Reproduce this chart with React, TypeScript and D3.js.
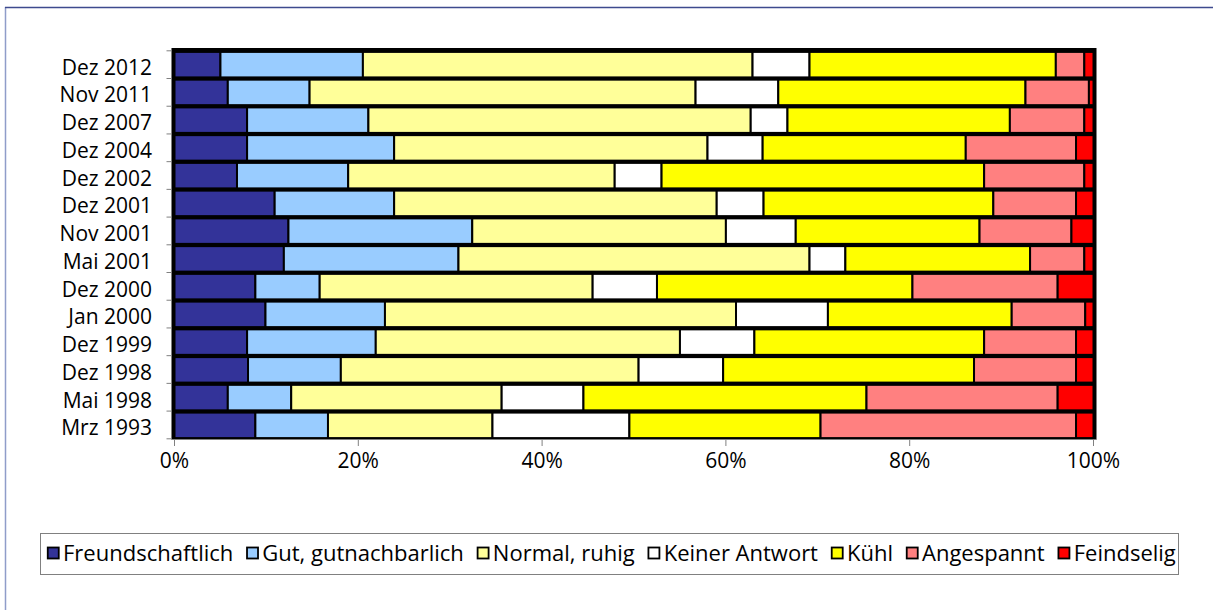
import React, { useEffect, useRef } from "react";
import * as d3 from "d3";

const categories = [
  "Dez 2012", "Nov 2011", "Dez 2007", "Dez 2004", "Dez 2002", "Dez 2001", "Nov 2001",
  "Mai 2001", "Dez 2000", "Jan 2000", "Dez 1999", "Dez 1998", "Mai 1998", "Mrz 1993",
];
const seriesNames = [
  "Freundschaftlich", "Gut, gutnachbarlich", "Normal, ruhig", "Keiner Antwort", "Kühl", "Angespannt", "Feindselig",
];
const freundschaftlich = [5, 5.8, 7.9, 7.9, 6.8, 10.9, 12.4, 11.9, 8.8, 9.9, 7.9, 8.0, 5.8, 8.8];
const gut = [15.5, 8.9, 13.2, 16.0, 12.1, 13.0, 20.0, 19.0, 7.0, 13.0, 14.0, 10.1, 6.9, 7.9];
const normal = [42.4, 42.0, 41.6, 34.1, 29.0, 35.1, 27.6, 38.2, 29.7, 38.2, 33.1, 32.4, 22.9, 17.9];
const keine = [6.2, 9.0, 4.0, 6.0, 5.1, 5.1, 7.6, 3.9, 7.0, 10.0, 8.1, 9.2, 8.9, 14.9];
const kuehl = [26.8, 26.9, 24.2, 22.1, 35.1, 25.0, 20.0, 20.1, 27.8, 20.0, 25.0, 27.3, 30.8, 20.8];
const angespannt = [3.1, 6.9, 8.1, 12.0, 10.9, 9.0, 10.0, 5.9, 15.8, 8.0, 10.0, 11.1, 20.8, 27.8];
const feindselig = [1.0, 0.5, 1.0, 1.9, 1.0, 1.9, 2.4, 1.0, 3.9, 0.9, 1.9, 1.9, 3.9, 1.9];
const xTicks = [0, 0.2, 0.4, 0.6, 0.8, 1.0];

const seriesValues = [freundschaftlich, gut, normal, keine, kuehl, angespannt, feindselig];
const colors = ["#333399", "#99CCFF", "#FFFF99", "#FFFFFF", "#FFFF00", "#FF8080", "#FF0000"];

const W = 1213;
const H = 610;
const FONT = "'Open Sans', 'Noto Sans', sans-serif";

export default function App() {
  const ref = useRef<SVGSVGElement | null>(null);

  useEffect(() => {
    const svg = d3.select(ref.current);
    svg.selectAll("*").remove();

    // outer frame
    svg.append("line").attr("x1", 5.5).attr("x2", 5.5).attr("y1", 7).attr("y2", H)
      .attr("stroke", "#8f9dc9").attr("stroke-width", 1.5);
    svg.append("line").attr("x1", 5).attr("x2", W).attr("y1", 7.5).attr("y2", 7.5)
      .attr("stroke", "#3d4a8e").attr("stroke-width", 1.5);

    const rows = categories.map((c, i) => {
      const o: any = { cat: c };
      seriesNames.forEach((s, k) => (o[s] = seriesValues[k][i]));
      return o;
    });
    const stacked = d3.stack<any>().keys(seriesNames).offset(d3.stackOffsetExpand)(rows);

    const x = d3.scaleLinear().domain([0, 1]).range([174.5, 1093.5]);
    const y = d3.scaleBand<string>().domain(categories).range([50.8, 439.2])
      .paddingInner(0.081).paddingOuter(0.04);

    // black plot background
    svg.append("rect").attr("x", 171.5).attr("y", 48).attr("width", 1096.5 - 171.5)
      .attr("height", 439.5 - 48).attr("fill", "#000");

    const g = svg.append("g");
    stacked.forEach((layer, k) => {
      g.selectAll(null).data(layer).enter().append("rect")
        .attr("x", (d: any) => x(d[0]))
        .attr("width", (d: any) => Math.max(0, x(d[1]) - x(d[0])))
        .attr("y", (d: any) => y(d.data.cat) as number)
        .attr("height", y.bandwidth())
        .attr("fill", colors[k])
        .attr("stroke", "#000")
        .attr("stroke-width", 2);
    });

    // y ticks
    const yBounds = d3.range(categories.length + 1).map((i) => 50.8 + i * (438.8 - 50.8) / categories.length);
    svg.append("g").selectAll("line").data(yBounds).enter().append("line")
      .attr("x1", 166.5).attr("x2", 172).attr("y1", (d) => d).attr("y2", (d) => d)
      .attr("stroke", "#808080").attr("stroke-width", 1);

    // x ticks
    svg.append("g").selectAll("line").data(xTicks).enter().append("line")
      .attr("x1", (d) => x(d)).attr("x2", (d) => x(d)).attr("y1", 439).attr("y2", 446)
      .attr("stroke", "#808080").attr("stroke-width", 1);
    svg.append("line").attr("x1", 171.5).attr("x2", 1096.5).attr("y1", 439.5).attr("y2", 439.5)
      .attr("stroke", "#808080").attr("stroke-width", 1);

    svg.append("g").selectAll("text").data(xTicks).enter().append("text")
      .attr("x", (d) => x(d)).attr("y", 468)
      .attr("text-anchor", "middle")
      .attr("font-family", FONT).attr("font-size", 21).attr("fill", "#000")
      .text((d) => d3.format(".0%")(d));

    svg.append("g").selectAll("text").data(categories).enter().append("text")
      .attr("x", 152).attr("y", (d) => (y(d) as number) + y.bandwidth() / 2 + 10)
      .attr("text-anchor", "end")
      .attr("font-family", FONT).attr("font-size", 21).attr("fill", "#000")
      .text((d) => d);

    // legend
    svg.append("rect").attr("x", 40.5).attr("y", 533.5).attr("width", 1178.5 - 40.5)
      .attr("height", 41).attr("fill", "#fff").attr("stroke", "#808080").attr("stroke-width", 1);
    let lx = 47;
    seriesNames.forEach((s, k) => {
      svg.append("rect").attr("x", lx + 0.75).attr("y", 547.5).attr("width", 11).attr("height", 11)
        .attr("fill", colors[k]).attr("stroke", "#000").attr("stroke-width", 1.8);
      const t = svg.append("text").attr("x", lx + 16).attr("y", 561)
        .attr("font-family", FONT).attr("font-size", 22).attr("fill", "#000").text(s);
      const w = (t.node() as SVGTextElement).getComputedTextLength();
      lx = lx + 16 + w + 13;
    });
  }, []);

  return (
    <svg ref={ref} width={W} height={H} style={{ position: "absolute", left: 0, top: 0, background: "#fff" }} />
  );
}
